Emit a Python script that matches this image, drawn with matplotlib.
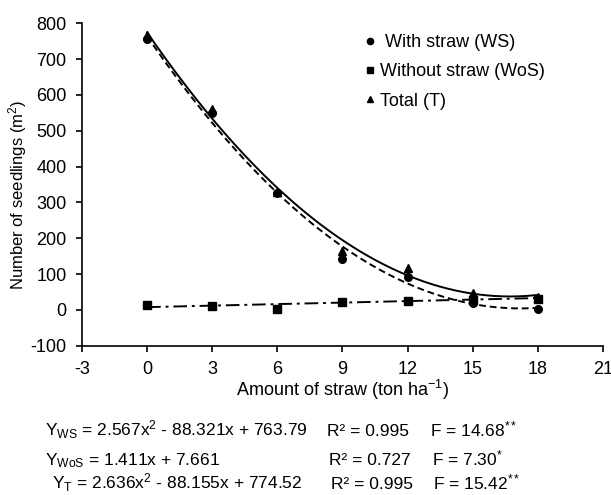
import numpy as np
import matplotlib
matplotlib.use("Agg")
import matplotlib.pyplot as plt
from matplotlib.lines import Line2D

plt.rcParams['font.family'] = ['Liberation Sans', 'DejaVu Sans']
plt.rcParams['mathtext.fontset'] = 'custom'
plt.rcParams['mathtext.rm'] = 'Liberation Sans'
plt.rcParams['mathtext.it'] = 'Liberation Sans:italic'
plt.rcParams['mathtext.bf'] = 'Liberation Sans:bold'

# data
straw = [0, 3, 6, 9, 12, 15, 18]
ws = [755, 550, 325, 143, 92, 20, 2]
wos = [13, 12, 3, 22, 25, 27, 30]
total = [768, 562, 328, 165, 118, 48, 35]

# regression coefficients (highest power first) as printed on the chart
coef_ws = [2.567, -88.321, 763.79]
coef_wos = [1.411, 7.661]
coef_t = [2.636, -88.155, 774.52]

xticks = [-3, 0, 3, 6, 9, 12, 15, 18, 21]
yticks = [-100, 0, 100, 200, 300, 400, 500, 600, 700, 800]

fig = plt.figure(figsize=(6.11, 4.95), dpi=100)
ax = fig.add_axes([0.1342, 0.3016, 0.8527, 0.6513])

xs = np.linspace(min(straw), max(straw), 200)
ax.plot(xs, np.polyval(coef_ws, xs), color='black', lw=1.4, ls=(0, (3.5, 2)))
ax.plot(xs, np.polyval(coef_t, xs), color='black', lw=1.4, ls='-')
ax.plot(xs, np.polyval(coef_wos, xs), color='black', lw=1.4, ls=(0, (7, 2.5, 1.5, 2.5)))

ax.plot(straw, ws, 'o', color='black', ms=5.5, ls='none')
ax.plot(straw, wos, 's', color='black', ms=5.5, ls='none')
ax.plot(straw, total, '^', color='black', ms=5.5, ls='none')

ax.set_xlim(-3, 21)
ax.set_ylim(-100, 800)
ax.set_xticks(xticks)
ax.set_yticks(yticks)
ax.set_xticklabels([str(v) for v in xticks])
ax.set_yticklabels([str(v) for v in yticks])
for s in ['top', 'right']:
    ax.spines[s].set_visible(False)
for s in ['left', 'bottom']:
    ax.spines[s].set_linewidth(1.2)
ax.tick_params(axis='both', direction='out', length=4, width=1.2, labelsize=13, pad=7)

ax.set_xlabel('Amount of straw (ton ha$^{-1}$)', fontsize=13, labelpad=0)
ax.set_ylabel('Number of seedlings (m$^{2}$)', fontsize=12)
ax.yaxis.set_label_coords(-0.101, 0.468)

handles = [
    Line2D([], [], marker='o', color='black', ls='none', ms=4.5),
    Line2D([], [], marker='s', color='black', ls='none', ms=4.5),
    Line2D([], [], marker='^', color='black', ls='none', ms=4.5),
]
labels = [' With straw (WS)', 'Without straw (WoS)', 'Total (T)']
fig.legend(handles, labels, loc='upper left', bbox_to_anchor=(365/611, 1 - 34/495),
           frameon=False, fontsize=13, handlelength=0.5, handletextpad=0.35,
           labelspacing=0.68, borderpad=0, borderaxespad=0)

fs = 12.5
eq_rows = [
    (r'$\mathregular{Y_{WS}}$ = 2.567x$^{2}$ - 88.321x + 763.79', 'R² = 0.995', r'F = 14.68$^{**}$', 45, 327, 430, 436),
    (r'$\mathregular{Y_{WoS}}$ = 1.411x + 7.661', 'R² = 0.727', r'F = 7.30$^{*}$', 45, 329, 432, 465),
    (r'$\mathregular{Y_{T}}$ = 2.636x$^{2}$ - 88.155x + 774.52', 'R² = 0.995', r'F = 15.42$^{**}$', 52, 331, 433, 489),
]
for eq, r2, f, x1, x2, x3, yb in eq_rows:
    y = 1 - yb / 495
    fig.text(x1 / 611, y, eq, fontsize=fs, va='baseline', ha='left')
    fig.text(x2 / 611, y, r2, fontsize=fs, va='baseline', ha='left')
    fig.text(x3 / 611, y, f, fontsize=fs, va='baseline', ha='left')

fig.savefig('out.png', dpi=100)
